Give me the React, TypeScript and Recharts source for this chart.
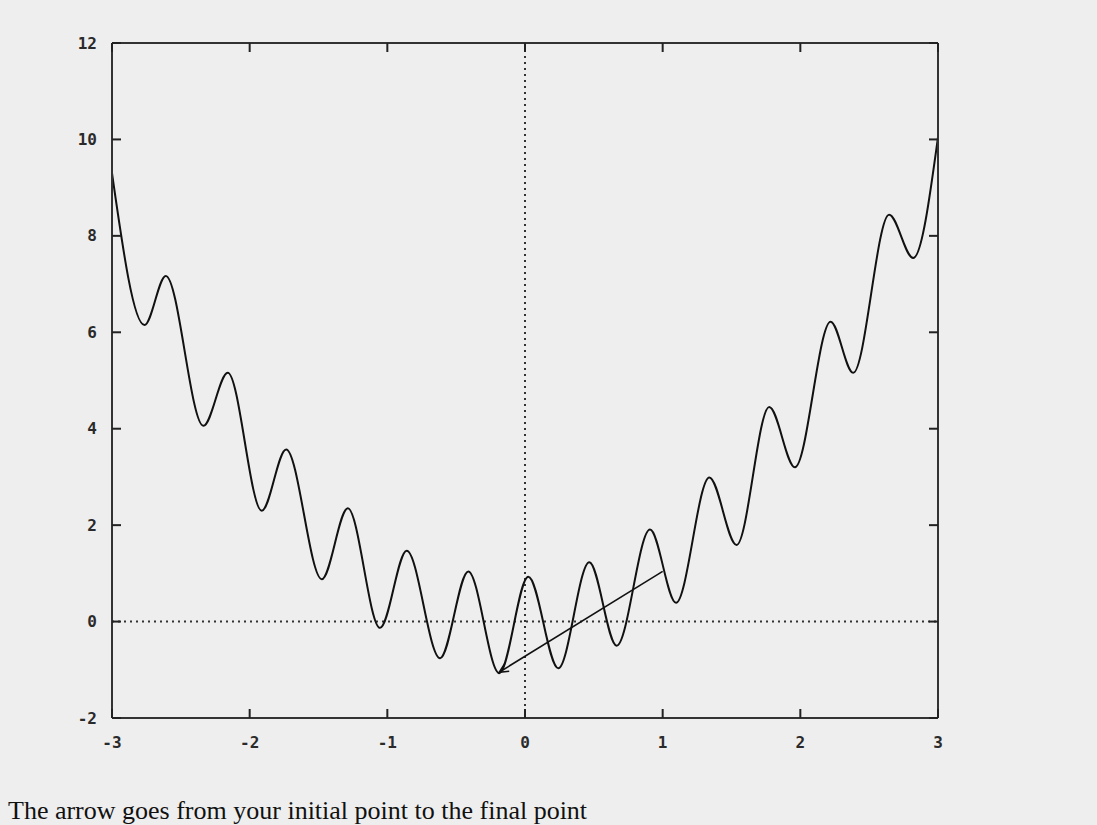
import React from "react";
import { LineChart, Line, XAxis, YAxis, ReferenceLine } from "recharts";

// curve: local peaks and troughs, plus the two ends
const xs = [
  -3, -2.764, -2.609, -2.336, -2.159, -1.912, -1.735, -1.476, -1.287, -1.053, -0.859, -0.617, -0.412, -0.187,
  0.024, 0.242, 0.467, 0.666, 0.908, 1.097, 1.339, 1.537, 1.774, 1.961, 2.22, 2.384, 2.645, 2.82, 3,
];
const ys = [
  9.3, 6.15, 7.17, 4.06, 5.16, 2.3, 3.57, 0.88, 2.35, -0.13, 1.47, -0.76, 1.04, -1.07,
  0.93, -0.97, 1.23, -0.5, 1.91, 0.39, 2.99, 1.59, 4.45, 3.2, 6.22, 5.16, 8.44, 7.54, 10.05,
];

const xTicks = [-3, -2, -1, 0, 1, 2, 3];
const yTicks = [-2, 0, 2, 4, 6, 8, 10, 12];

// initial point -> final point
const arrowFrom = { x: 1.0, y: 1.04 };
const arrowTo = { x: -0.187, y: -1.05 };

const data = xs.map((x, i) => ({ x, y: ys[i] }));

const TICK = 9;
const INK = "#222";
const tickFont = { fontFamily: "DejaVu Sans Mono", fontSize: 16, fontWeight: "bold" as const, fill: "#2a2a2a" };

function BottomTick({ x, y, payload }: any) {
  return (
    <g>
      <line x1={x} y1={y} x2={x} y2={y - TICK} stroke={INK} strokeWidth={2} />
      <text x={x} y={y + 24} textAnchor="middle" dominantBaseline="central" {...tickFont}>
        {String(payload.value)}
      </text>
    </g>
  );
}

function TopTick({ x, y }: any) {
  return <line x1={x} y1={y} x2={x} y2={y + TICK} stroke={INK} strokeWidth={2} />;
}

function LeftTick({ x, y, payload }: any) {
  return (
    <g>
      <line x1={x} y1={y} x2={x + TICK} y2={y} stroke={INK} strokeWidth={2} />
      <text x={x - 15} y={y} textAnchor="end" dominantBaseline="central" {...tickFont}>
        {String(payload.value)}
      </text>
    </g>
  );
}

function RightTick({ x, y }: any) {
  return <line x1={x} y1={y} x2={x - TICK} y2={y} stroke={INK} strokeWidth={2} />;
}

function Arrow({ x1, y1, x2, y2 }: any) {
  const ang = Math.atan2(y2 - y1, x2 - x1);
  const len = 10;
  const spread = 0.45;
  const a1 = ang + Math.PI - spread;
  const a2 = ang + Math.PI + spread;
  return (
    <g>
      <line x1={x1} y1={y1} x2={x2} y2={y2} stroke="#111" strokeWidth={1.6} />
      <path
        d={`M${x2 + len * Math.cos(a1)},${y2 + len * Math.sin(a1)} L${x2},${y2} L${x2 + len * Math.cos(a2)},${y2 + len * Math.sin(a2)}`}
        fill="none"
        stroke="#111"
        strokeWidth={1.6}
      />
    </g>
  );
}

const frame = { stroke: "#333", strokeWidth: 2 };

export default function App() {
  return (
    <div style={{ position: "absolute", left: 0, top: 0, width: 1097, height: 825, background: "#eeeeee", overflow: "hidden" }}>
      <div style={{ position: "absolute", left: 8, top: 8 }}>
        <LineChart width={1081} height={745} data={data} margin={{ top: 34, right: 150, bottom: 5, left: 64 }}>
          <XAxis
            dataKey="x"
            type="number"
            domain={[-3, 3]}
            ticks={xTicks}
            interval={0}
            allowDataOverflow
            height={30}
            tickSize={0}
            tickMargin={0}
            tickLine={false}
            axisLine={frame}
            tick={<BottomTick />}
          />
          <XAxis
            xAxisId="top"
            orientation="top"
            dataKey="x"
            type="number"
            domain={[-3, 3]}
            ticks={xTicks}
            interval={0}
            allowDataOverflow
            height={1}
            tickSize={0}
            tickMargin={0}
            tickLine={false}
            axisLine={frame}
            tick={<TopTick />}
          />
          <YAxis
            type="number"
            domain={[-2, 12]}
            ticks={yTicks}
            interval={0}
            allowDataOverflow
            width={40}
            tickSize={0}
            tickMargin={0}
            tickLine={false}
            axisLine={frame}
            tick={<LeftTick />}
          />
          <YAxis
            yAxisId="right"
            orientation="right"
            type="number"
            domain={[-2, 12]}
            ticks={yTicks}
            interval={0}
            allowDataOverflow
            width={1}
            tickSize={0}
            tickMargin={0}
            tickLine={false}
            axisLine={frame}
            tick={<RightTick />}
          />
          <ReferenceLine x={0} stroke="#333" strokeWidth={2} strokeDasharray="2 4" />
          <ReferenceLine y={0} stroke="#333" strokeWidth={2} strokeDasharray="2 4" />
          {/* invisible copy so the mirrored top/right axes get drawn */}
          <Line
            xAxisId="top"
            yAxisId="right"
            dataKey="y"
            stroke="none"
            dot={false}
            activeDot={false}
            legendType="none"
            isAnimationActive={false}
          />
          <Line
            dataKey="y"
            type="monotone"
            stroke="#111"
            strokeWidth={2}
            dot={false}
            isAnimationActive={false}
          />
          <ReferenceLine segment={[arrowFrom, arrowTo]} shape={<Arrow />} />
        </LineChart>
      </div>
      <div
        style={{
          position: "absolute",
          left: 8,
          top: 798,
          fontFamily: "Liberation Serif",
          fontSize: 26,
          lineHeight: "26px",
          color: "#111",
          whiteSpace: "nowrap",
        }}
      >
        The arrow goes from your initial point to the final point
      </div>
    </div>
  );
}
